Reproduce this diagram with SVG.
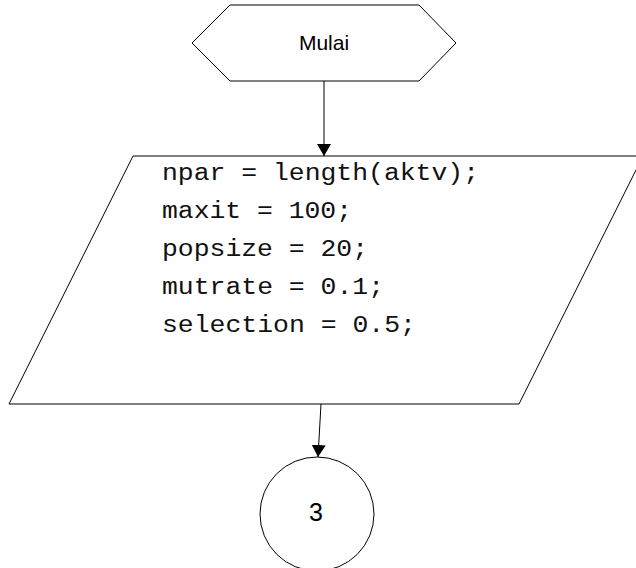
<svg xmlns="http://www.w3.org/2000/svg" width="636" height="568" viewBox="0 0 636 568">
<style>
.shape{fill:#fff;stroke:#000;stroke-width:1}
.lbl{font-family:"Liberation Sans",Arial,sans-serif;font-size:21px;fill:#000;text-anchor:middle}
.num{font-size:25px}
.code{font-family:"Liberation Mono","Courier New",monospace;font-size:23px;fill:#111}
.conn{stroke:#000;stroke-width:1;fill:none;marker-end:url(#arr)}
</style>
<defs>
<marker id="arr" markerWidth="12" markerHeight="14" refX="12" refY="7" orient="auto" markerUnits="userSpaceOnUse">
<path d="M0,0 L12,7 L0,14 Z" fill="#000"/>
</marker>
</defs>
<rect width="636" height="568" fill="#fff"/>
<g id="start">
<polygon class="shape" points="192,43 230,5 419,5 456,43 419,81 230,81"/>
<text class="lbl" x="324" y="50">Mulai</text>
</g>
<g id="input">
<polygon class="shape" points="133,156 643,156 519,404 9,404"/>
<text class="code" x="162" y="180" textLength="317" lengthAdjust="spacingAndGlyphs">npar = length(aktv);</text>
<text class="code" x="162" y="218" textLength="190" lengthAdjust="spacingAndGlyphs">maxit = 100;</text>
<text class="code" x="162" y="256" textLength="206" lengthAdjust="spacingAndGlyphs">popsize = 20;</text>
<text class="code" x="162" y="294" textLength="222" lengthAdjust="spacingAndGlyphs">mutrate = 0.1;</text>
<text class="code" x="162" y="332" textLength="254" lengthAdjust="spacingAndGlyphs">selection = 0.5;</text>
</g>
<g id="connector3">
<circle class="shape" cx="317" cy="514" r="57"/>
<text class="lbl num" x="316" y="521">3</text>
</g>
<g id="connectors">
<line class="conn" x1="321" y1="404" x2="318" y2="457"/>
<line class="conn" x1="324" y1="81" x2="324" y2="156"/>
</g>
</svg>
